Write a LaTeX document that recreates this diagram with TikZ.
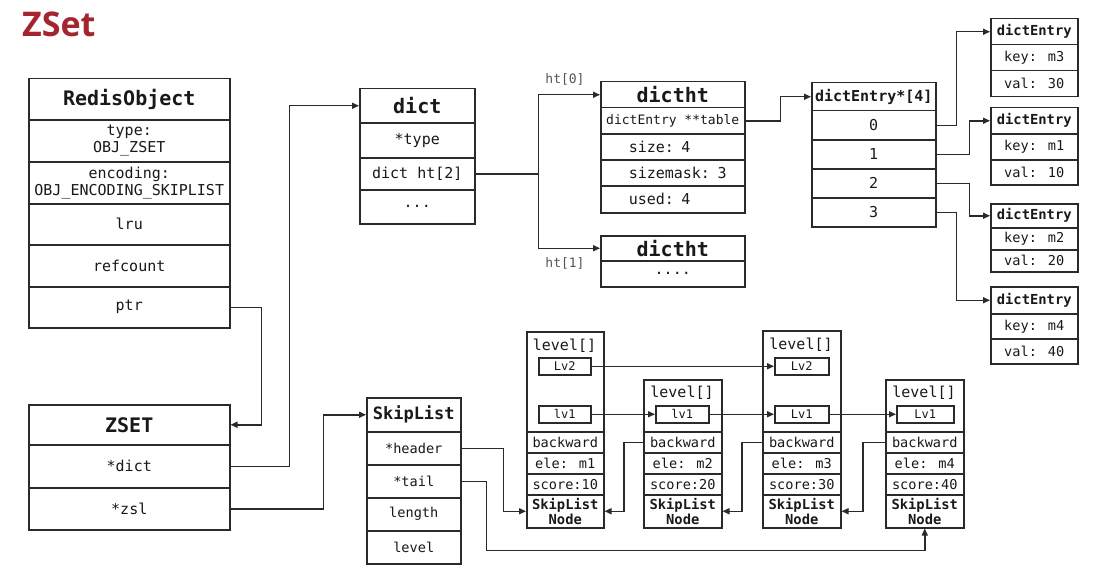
\documentclass[tikz,border=0pt]{standalone}
\usepackage{fontspec}
\setmainfont{DejaVu Sans Mono}
\newfontfamily\titlefont{Open Sans}
\usetikzlibrary{arrows.meta}

\definecolor{boxline}{HTML}{2A2A2A}
\definecolor{titlered}{HTML}{A3262E}
\definecolor{labelgray}{HTML}{555555}

\newcommand\fsz[2]{\fontsize{#1pt}{#2pt}\selectfont}
% \cellbox{name}{left}{top}{width}{height}{extra style}{text}
\newcommand\cellbox[7]{\node[cell,minimum width=#4pt,minimum height=#5pt,anchor=north west,#6] (#1) at (#2,#3) {#7};}

\tikzset{
  cell/.style={draw=boxline, line width=1.5pt, inner sep=0pt, text=black!90, font=\fsz{15}{17}, align=center},
  hdr/.style={font=\bfseries\fsz{20}{22}},
  hdrmid/.style={font=\bfseries\fsz{17}{19}},
  hdrsmall/.style={font=\bfseries\fsz{13.8}{15}},
  small/.style={font=\fsz{13.6}{15}},
  tiny/.style={font=\fsz{12}{14}},
  leftrow/.style={text width=144pt, align=left, font=\fsz{15}{17}},
  txt/.style={inner sep=0pt, text=black!90, font=\fsz{15}{17}},
  link/.style={draw=boxline, line width=1.5pt},
  arr/.style={link, -{Triangle[length=7pt,width=6pt]}},
}

\begin{document}
\begin{tikzpicture}[x=1pt,y=-1pt]
\useasboundingbox[fill=white] (0,0) rectangle (1107,575);

% heading
\node[anchor=base west, inner sep=0pt, text=titlered,
      font=\titlefont\bfseries\fsz{34}{36}] (title) at (22,37) {ZSet};

% ---------- RedisObject ----------
\cellbox{ro-h}{28}{78}{201}{41}{hdr}{RedisObject}
\cellbox{ro-type}{28}{119}{201}{42}{}{type:\\OBJ\_ZSET}
\cellbox{ro-enc}{28}{161}{201}{42}{}{encoding:\\OBJ\_ENCODING\_SKIPLIST}
\cellbox{ro-lru}{28}{203}{201}{41}{}{lru}
\cellbox{ro-ref}{28}{244}{201}{42}{}{refcount}
\cellbox{ro-ptr}{28}{286}{201}{41}{}{ptr}

% ---------- ZSET ----------
\cellbox{zs-h}{28}{404}{201}{40}{hdr}{ZSET}
\cellbox{zs-dict}{28}{444}{201}{43}{}{*dict}
\cellbox{zs-zsl}{28}{487}{201}{42}{}{*zsl}

% ---------- dict ----------
\cellbox{d-h}{359}{88}{115}{34}{hdr}{dict}
\cellbox{d-type}{359}{122}{115}{35}{}{*type}
\cellbox{d-ht}{359}{157}{115}{32}{}{dict ht[2]}
\cellbox{d-more}{359}{189}{115}{34}{}{...}

% ---------- dictht ht[0] ----------
\cellbox{h0-h}{600}{81}{144}{26}{hdr}{dictht}
\cellbox{h0-tbl}{600}{107}{144}{26}{font=\fsz{13}{15}}{dictEntry **table}
\cellbox{h0-size}{600}{133}{144}{26}{leftrow}{\hspace*{28pt}size: 4}
\cellbox{h0-mask}{600}{159}{144}{26}{leftrow}{\hspace*{28pt}sizemask: 3}
\cellbox{h0-used}{600}{185}{144}{27}{leftrow}{\hspace*{28pt}used: 4}

% ---------- dictht ht[1] ----------
\cellbox{h1-h}{600}{235}{144}{25}{hdr}{dictht}
\cellbox{h1-more}{600}{260}{144}{26}{}{....}

\node[txt, text=labelgray, font=\fsz{13}{15}] (lbl-ht0) at (565,79) {ht[0]};
\node[txt, text=labelgray, font=\fsz{13}{15}] (lbl-ht1) at (565,263) {ht[1]};

% ---------- bucket array ----------
\cellbox{b-h}{811}{82}{124}{28}{font=\bfseries\fsz{15}{17}}{dictEntry*[4]}
\cellbox{b-0}{811}{110}{124}{29}{}{0}
\cellbox{b-1}{811}{139}{124}{29}{}{1}
\cellbox{b-2}{811}{168}{124}{29}{}{2}
\cellbox{b-3}{811}{197}{124}{29}{}{3}

% ---------- dict entries ----------
\cellbox{e3-h}{990}{18}{87}{26}{hdrsmall}{dictEntry}
\cellbox{e3-k}{990}{44}{87}{26}{small}{key: m3}
\cellbox{e3-v}{990}{70}{87}{26}{small}{val: 30}

\cellbox{e1-h}{990}{107}{87}{26}{hdrsmall}{dictEntry}
\cellbox{e1-k}{990}{133}{87}{26}{small}{key: m1}
\cellbox{e1-v}{990}{159}{87}{25}{small}{val: 10}

\cellbox{e2-h}{990}{203}{87}{24}{hdrsmall}{dictEntry}
\cellbox{e2-k}{990}{227}{87}{22}{small}{key: m2}
\cellbox{e2-v}{990}{249}{87}{22}{small}{val: 20}

\cellbox{e4-h}{990}{286}{87}{27}{hdrsmall}{dictEntry}
\cellbox{e4-k}{990}{313}{87}{25}{small}{key: m4}
\cellbox{e4-v}{990}{338}{87}{25}{small}{val: 40}

% ---------- SkipList ----------
\cellbox{sl-h}{366}{397}{94}{34}{hdrmid}{SkipList}
\cellbox{sl-head}{366}{431}{94}{33}{small}{*header}
\cellbox{sl-tail}{366}{464}{94}{33}{small}{*tail}
\cellbox{sl-len}{366}{497}{94}{33}{small}{length}
\cellbox{sl-lvl}{366}{530}{94}{33}{small}{level}

% ---------- skip list nodes ----------
% node 1
\cellbox{n1-lv}{526}{331}{77}{100}{}{}
\node[txt] (n1-lt) at (564.5,346) {level[]};
\cellbox{n1-l2}{538}{357}{52}{17}{tiny}{Lv2}
\cellbox{n1-l1}{538}{405}{52}{17}{tiny}{lv1}
\cellbox{n1-bw}{526}{431}{77}{21}{small}{backward}
\cellbox{n1-ele}{526}{452}{77}{21}{small}{ele: m1}
\cellbox{n1-sc}{526}{473}{77}{21}{small}{score:10}
\cellbox{n1-nd}{526}{494}{77}{33}{hdrsmall}{SkipList\\Node}

% node 2
\cellbox{n2-lv}{643}{379}{78}{52}{}{}
\node[txt] (n2-lt) at (682,393) {level[]};
\cellbox{n2-l1}{655}{405}{53}{17}{tiny}{lv1}
\cellbox{n2-bw}{643}{431}{78}{21}{small}{backward}
\cellbox{n2-ele}{643}{452}{78}{21}{small}{ele: m2}
\cellbox{n2-sc}{643}{473}{78}{21}{small}{score:20}
\cellbox{n2-nd}{643}{494}{78}{33}{hdrsmall}{SkipList\\Node}

% node 3
\cellbox{n3-lv}{762}{330}{78}{101}{}{}
\node[txt] (n3-lt) at (801,345) {level[]};
\cellbox{n3-l2}{774}{357}{54}{17}{tiny}{Lv2}
\cellbox{n3-l1}{774}{405}{54}{17}{tiny}{Lv1}
\cellbox{n3-bw}{762}{431}{78}{21}{small}{backward}
\cellbox{n3-ele}{762}{452}{78}{21}{small}{ele: m3}
\cellbox{n3-sc}{762}{473}{78}{21}{small}{score:30}
\cellbox{n3-nd}{762}{494}{78}{33}{hdrsmall}{SkipList\\Node}

% node 4
\cellbox{n4-lv}{885}{379}{78}{52}{}{}
\node[txt] (n4-lt) at (924,393) {level[]};
\cellbox{n4-l1}{896}{405}{57}{17}{tiny}{Lv1}
\cellbox{n4-bw}{885}{431}{78}{21}{small}{backward}
\cellbox{n4-ele}{885}{452}{78}{21}{small}{ele: m4}
\cellbox{n4-sc}{885}{473}{78}{21}{small}{score:40}
\cellbox{n4-nd}{885}{494}{78}{33}{hdrsmall}{SkipList\\Node}

% ---------- pointers ----------
\draw[arr] (ro-ptr.east) -- ++(31,0) |- (zs-h.east);
\draw[arr] (zs-dict.east) -- ++(59,0) |- (d-h.west);
\draw[arr] (zs-zsl.east) -- ++(93,0) |- (sl-h.west);

\draw[link] (d-ht.east) -- ++(63,0) coordinate (split);
\draw[arr] (split) |- (h0-h.west);
\draw[arr] (split) |- (h1-h.west);

\draw[arr] (h0-tbl.east) -- ++(35,0) |- (b-h.west);

\draw[arr] (b-0.east) -- ++(20,0) |- (e3-h.west);
\draw[arr] (b-1.east) -- ++(33,0) |- (e1-h.west);
\draw[arr] (b-2.east) -- ++(33,0) |- (e2-h.west);
\draw[arr] (b-3.east) -- ++(20,0) |- (e4-h.west);

% skip list forward links
\draw[arr] (n1-l2.east) -- (n3-l2.west);
\draw[arr] (n1-l1.east) -- (n2-l1.west);
\draw[arr] (n2-l1.east) -- (n3-l1.west);
\draw[arr] (n3-l1.east) -- (n4-l1.west);

% header / tail
\draw[arr] (sl-head.east) -- ++(42,0) |- (n1-nd.west);
\draw[arr] (sl-tail.east) -- ++(25,0) -- ++(0,69) -| (n4-nd.south);

% backward links
\draw[arr] (n2-bw.west) -- ++(-19,0) |- (n1-nd.east);
\draw[arr] (n3-bw.west) -- ++(-20,0) |- (n2-nd.east);
\draw[arr] (n4-bw.west) -- ++(-22,0) |- (n3-nd.east);
\end{tikzpicture}
\end{document}
